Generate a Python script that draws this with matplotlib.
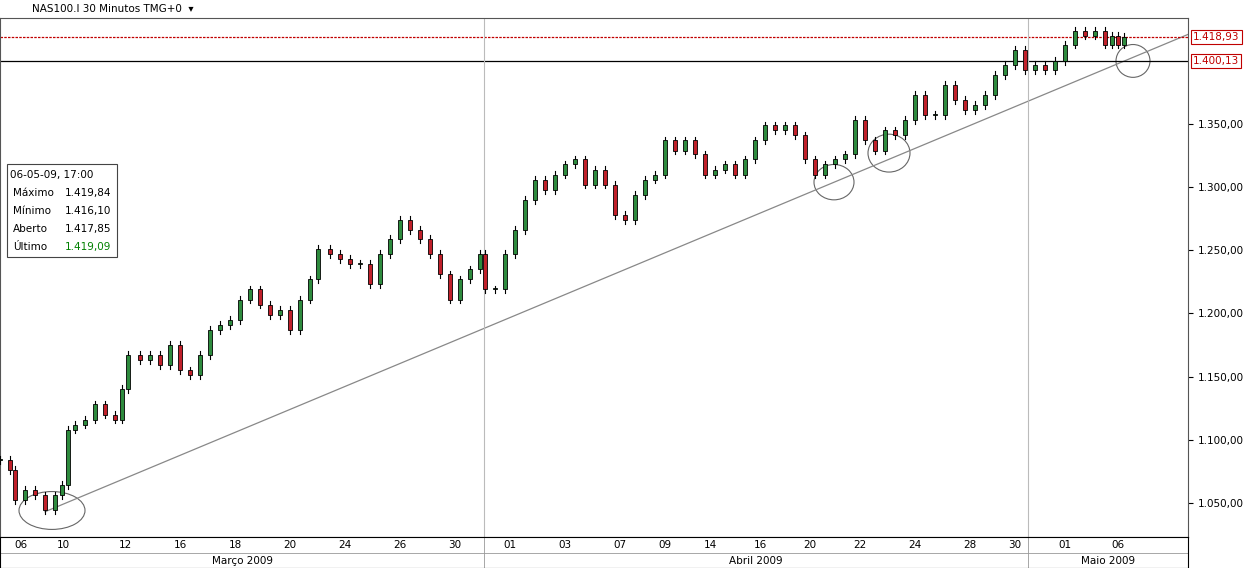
import numpy as np
import matplotlib.pyplot as plt
from matplotlib.patches import Ellipse, Rectangle

# x position (chart units) and close price
xs = [0, 10, 15, 25, 35, 45, 55, 62, 68, 75, 85, 95, 105, 115, 122, 128, 140, 150, 160, 170,
      180, 190, 200, 210, 220, 230, 240, 250, 260, 270, 280, 290, 300, 310, 318, 330, 340, 350,
      360, 370, 380, 390, 400, 410, 420, 430, 440, 450, 460, 470, 480, 485, 495, 505, 515, 525,
      535, 545, 555, 565, 575, 585, 595, 605, 615, 625, 635, 645, 655, 665, 675, 685, 695, 705,
      715, 725, 735, 745, 755, 765, 775, 785, 795, 805, 815, 825, 835, 845, 855, 865, 875, 885,
      895, 905, 915, 925, 935, 945, 955, 965, 975, 985, 995, 1005, 1015, 1025, 1035, 1045, 1055,
      1065, 1075, 1085, 1095, 1105, 1112, 1118, 1124]
closes = [1084, 1076, 1052, 1060, 1056, 1044, 1056, 1064, 1108, 1112, 1116, 1128, 1120, 1116,
          1140, 1167, 1163, 1167, 1159, 1175, 1155, 1151, 1167, 1187, 1191, 1195, 1211, 1219,
          1207, 1199, 1203, 1187, 1211, 1227, 1251, 1247, 1243, 1239, 1239, 1223, 1247, 1259,
          1274, 1266, 1259, 1247, 1231, 1211, 1227, 1235, 1247, 1219, 1219, 1247, 1266, 1290,
          1306, 1298, 1310, 1318, 1322, 1302, 1314, 1302, 1278, 1274, 1294, 1306, 1310, 1337,
          1329, 1337, 1326, 1310, 1314, 1318, 1310, 1322, 1337, 1349, 1345, 1349, 1341, 1322,
          1310, 1318, 1322, 1326, 1353, 1337, 1329, 1345, 1341, 1353, 1373, 1357, 1357, 1381,
          1369, 1361, 1365, 1373, 1389, 1397, 1409, 1393, 1397, 1393, 1400, 1413, 1424, 1420,
          1424, 1413, 1420, 1413, 1419.09]

day_pos = [21, 63, 125, 180, 235, 290, 345, 400, 455, 510, 565, 620, 665, 710, 760, 810, 860,
           915, 970, 1015, 1065, 1118]
day_labels = ["06", "10", "12", "16", "18", "20", "24", "26", "30", "01", "03", "07", "09", "14",
              "16", "20", "22", "24", "28", "30", "01", "06"]
month_bounds = [0, 484, 1028, 1188]
month_labels = ["Março 2009", "Abril 2009", "Maio 2009"]
yticks = [1050, 1100, 1150, 1200, 1250, 1300, 1350]


def br(v):
    return f"{v:,.2f}".replace(",", "X").replace(".", ",").replace("X", ".")


fig = plt.figure(figsize=(12.49, 5.68), dpi=100)
W, H = 1249, 568
ax = fig.add_axes([0, 1 - 537 / H, 1188 / W, (537 - 18) / H])
ax.set_xlim(0, 1188)
ax.set_ylim(1023, 1434)

opens = [closes[0]] + closes[:-1]
for x, o, c in zip(xs, opens, closes):
    hi, lo = max(o, c) + 3, min(o, c) - 3
    ax.plot([x, x], [lo, hi], color="black", lw=0.8, zorder=3)
    col = "#2e8b3e" if c >= o else "#c0202a"
    ax.add_patch(Rectangle((x - 2, min(o, c)), 4, max(abs(c - o), 0.8),
                           facecolor=col, edgecolor="black", lw=0.6, zorder=4))

ax.plot([45, 1188], [1043, 1421], color="#888888", lw=0.9)
ax.axhline(1418.93, color="#c00000", lw=0.9, ls=(0, (2, 1)))
ax.axhline(1400.13, color="black", lw=0.9)
for xb in month_bounds[1:3]:
    ax.axvline(xb, color="#bbbbbb", lw=0.8)

for (ex, ey, w, h) in [(52, 1044, 66, 30), (834, 1304, 40, 28), (889, 1327, 42, 30), (1133, 1400, 34, 26)]:
    ax.add_patch(Ellipse((ex, ey), w, h, fill=False, edgecolor="#666666", lw=0.8))

ax.yaxis.tick_right()
ax.set_yticks(yticks)
ax.set_yticklabels([br(v) for v in yticks], fontsize=7.5)
ax.set_xticks([])
for s in ax.spines.values():
    s.set_color("#555555")

# price labels on the right
for val, col in [(1418.93, "#c00000"), (1400.13, "#c00000")]:
    ax.text(1193, val, br(val), fontsize=7.5, color=col, va="center", ha="left", clip_on=False,
            bbox=dict(facecolor="white", edgecolor=col, pad=1.5, lw=0.8))

# info box
ax.text(10, 1309.5, "06-05-09, 17:00", fontsize=7.5, va="center")
for i, (k, v, c) in enumerate([("Máximo", "1.419,84", "black"), ("Mínimo", "1.416,10", "black"),
                               ("Aberto", "1.417,85", "black"), ("Último", "1.419,09", "green")]):
    y = 1295.5 - i * 14.4
    ax.text(13, y, k, fontsize=7.5, va="center")
    ax.text(65, y, v, fontsize=7.5, va="center", color=c)
ax.add_patch(Rectangle((7, 1245), 110, 73, fill=False, edgecolor="#444444", lw=0.8))

fig.text(32 / W, 1 - 9 / H, "NAS100.I 30 Minutos TMG+0  \u25be", fontsize=7.5, va="center")

# date axis
ax2 = fig.add_axes([0, 0, 1188 / W, 31 / H])
ax2.set_xlim(0, 1188)
ax2.set_ylim(0, 2)
ax2.set_xticks([])
ax2.set_yticks([])
ax2.axhline(1, color="#999999", lw=0.6)
for p, l in zip(day_pos, day_labels):
    ax2.text(p, 1.5, l, fontsize=7.5, ha="center", va="center")
for a, b, l in zip(month_bounds[:-1], month_bounds[1:], month_labels):
    ax2.text((a + b) / 2, 0.45, l, fontsize=7.5, ha="center", va="center")
    ax2.axvline(b, color="#999999", lw=0.6)

fig.savefig("out.png", dpi=100)
